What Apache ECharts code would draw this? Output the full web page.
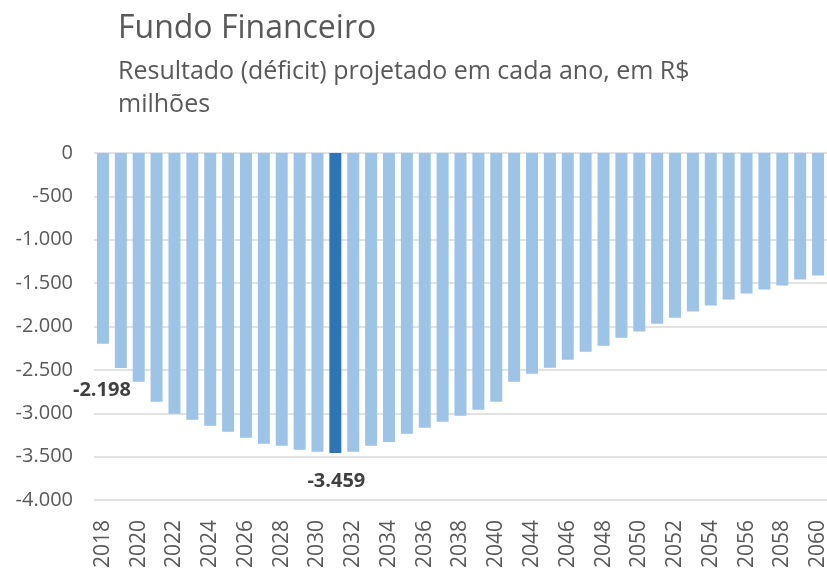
<!DOCTYPE html>
<html>
<head>
<meta charset="utf-8">
<script src="https://cdn.jsdelivr.net/npm/echarts@6/dist/echarts.min.js"></script>
<style>
  html, body { margin: 0; padding: 0; background: #fff; }
  #chart { width: 827px; height: 569px; }
</style>
</head>
<body>
<div id="chart"></div>
<script>
var anos = ['2018', '2019', '2020', '2021', '2022', '2023', '2024', '2025', '2026', '2027',
    '2028', '2029', '2030', '2031', '2032', '2033', '2034', '2035', '2036', '2037',
    '2038', '2039', '2040', '2042', '2044', '2045', '2046', '2047', '2048', '2049',
    '2050', '2051', '2052', '2053', '2054', '2055', '2056', '2057', '2058', '2059', '2060'];
var resultado = [-2198, -2479, -2637, -2868, -3006, -3075, -3145, -3214, -3283, -3353,
    -3376, -3422, -3445, -3459, -3445, -3376, -3330, -3237, -3168, -3098,
    -3029, -2960, -2868, -2637, -2544, -2475, -2383, -2290, -2221, -2129,
    -2059, -1967, -1898, -1828, -1759, -1690, -1620, -1574, -1528, -1459, -1413];
var destaque = 13;          // 2031, maior déficit
var rotulados = [0, 13];    // barras com rótulo de valor
var yMin = -4000, yMax = 0, yStep = 500;

var corTexto = '#595959';
var fonte = '"Open Sans", "Noto Sans", sans-serif';

function fmtBR(v) {
    var s = String(Math.abs(Math.round(v))).replace(/\B(?=(\d{3})+(?!\d))/g, '.');
    return (v < 0 ? '-' : '') + s;
}

var barData = resultado.map(function (v, i) {
    var item = {
        value: v,
        itemStyle: { color: i === destaque ? '#2e75b6' : '#9dc3e6' }
    };
    if (rotulados.indexOf(i) >= 0) {
        item.label = {
            show: true,
            position: 'bottom',
            distance: 5,
            offset: i === 0 ? [-1, 32] : [1, 13],
            formatter: function (p) { return fmtBR(p.value); },
            fontFamily: fonte,
            fontWeight: 'bold',
            fontSize: 20,
            color: '#404040'
        };
    }
    return item;
});

var myChart = echarts.init(document.getElementById('chart'));
var option = {
    animation: false,
    title: [
        {
            text: 'Fundo Financeiro',
            left: 113,
            top: 8,
            textStyle: { fontFamily: fonte, fontSize: 32, fontWeight: 'normal', color: corTexto }
        },
        {
            text: 'Resultado (déficit) projetado em cada ano, em R$\nmilhões',
            left: 113,
            top: 50,
            textStyle: { fontFamily: fonte, fontSize: 25, fontWeight: 'normal', color: corTexto, lineHeight: 33 }
        }
    ],
    grid: {
        left: 94,
        right: 0,
        top: 153,
        bottom: 69,
        containLabel: false,
        outerBoundsMode: 'none'
    },
    xAxis: {
        type: 'category',
        data: anos,
        position: 'bottom',
        axisLine: { show: false, onZero: false },
        axisTick: { show: false },
        axisLabel: {
            rotate: 90,
            interval: 1,
            margin: 20,
            fontFamily: fonte,
            fontSize: 21,
            color: corTexto
        }
    },
    yAxis: {
        type: 'value',
        min: yMin,
        max: yMax,
        interval: yStep,
        axisLine: { show: false },
        axisTick: { show: false },
        splitLine: { lineStyle: { color: '#d9d9d9', width: 1.5 } },
        axisLabel: {
            margin: 21,
            fontFamily: fonte,
            fontSize: 20,
            color: corTexto,
            formatter: fmtBR
        }
    },
    series: [
        {
            type: 'bar',
            data: barData,
            barCategoryGap: '33%'
        }
    ]
};
myChart.setOption(option);
</script>
</body>
</html>
